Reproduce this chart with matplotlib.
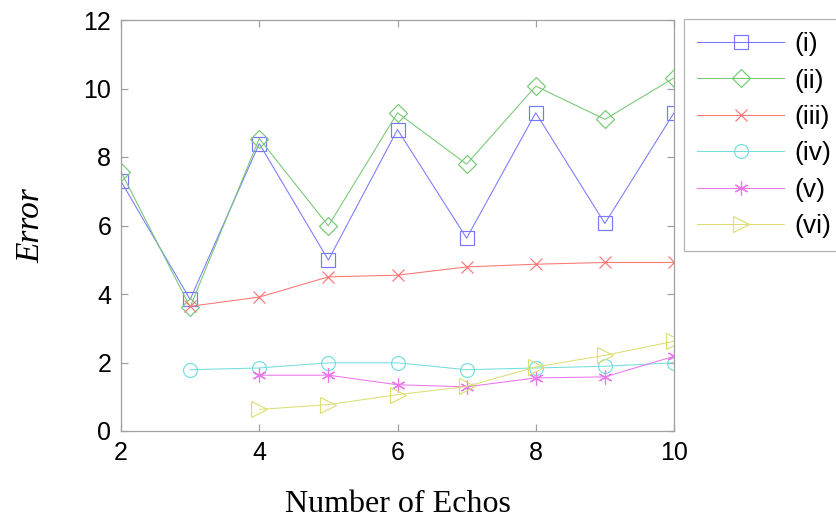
import matplotlib
matplotlib.use("Agg")
import matplotlib.pyplot as plt
import numpy as np

# values
echos = [2, 3, 4, 5, 6, 7, 8, 9, 10]
err_i = [7.29, 3.84, 8.39, 4.99, 8.80, 5.63, 9.29, 6.06, 9.29]
err_ii = [7.57, 3.62, 8.54, 5.99, 9.29, 7.79, 10.07, 9.10, 10.31]
echos_iii = [3, 4, 5, 6, 7, 8, 9, 10]
err_iii = [3.64, 3.91, 4.50, 4.55, 4.79, 4.87, 4.92, 4.92]
echos_iv = [3, 4, 5, 6, 7, 8, 9, 10]
err_iv = [1.79, 1.84, 1.99, 1.99, 1.79, 1.84, 1.89, 1.99]
echos_v = [4, 5, 6, 7, 8, 9, 10]
err_v = [1.63, 1.63, 1.35, 1.29, 1.55, 1.58, 2.18]
echos_vi = [4, 5, 6, 7, 8, 9, 10]
err_vi = [0.63, 0.77, 1.06, 1.30, 1.87, 2.21, 2.62]

labels = ["(i)", "(ii)", "(iii)", "(iv)", "(v)", "(vi)"]
colors = ["#7878ff", "#74c874", "#ff7474", "#74dede", "#ec74ec", "#dede74"]
# (6, 2, 0) = six-spoke asterisk, like matlab's '*'
markers = ["s", "D", "x", "o", (6, 2, 0), ">"]
sizes = [10, 9, 9, 10, 10, 11]

series = [
    (echos, err_i),
    (echos, err_ii),
    (echos_iii, err_iii),
    (echos_iv, err_iv),
    (echos_v, err_v),
    (echos_vi, err_vi),
]

fig = plt.figure(figsize=(8.36, 5.21), dpi=100)
ax = fig.add_axes([121 / 836, 1 - 431 / 521, (674 - 121) / 836, (431 - 20) / 521])

for (x, y), lab, c, m, ms in zip(series, labels, colors, markers, sizes):
    ax.plot(x, y, color=c, lw=0.75, marker=m, ms=ms,
            mfc="none", mec=c, mew=0.85, label=lab)

ax.set_xlim(2, 10)
ax.set_ylim(0, 12)
ax.set_xticks(np.arange(2, 11, 2))
ax.set_yticks(np.arange(0, 13, 2))
for sp in ax.spines.values():
    sp.set_color("#a0a0a0")
    sp.set_linewidth(0.9)
ax.tick_params(direction="in", length=5, color="#a0a0a0", width=0.9,
               top=True, right=True, labelsize=18, pad=7)
for t in ax.get_xticklabels() + ax.get_yticklabels():
    t.set_fontfamily("Liberation Sans")

ax.set_xlabel("Number of Echos", fontfamily="Liberation Serif",
              fontsize=23, labelpad=18)
ax.set_ylabel("Error", fontfamily="Liberation Serif", fontstyle="italic",
              fontsize=24, labelpad=27)

leg = fig.legend(loc="upper left", bbox_to_anchor=(684 / 836, 1 - 19 / 521),
                 frameon=True, fancybox=False, edgecolor="#a0a0a0",
                 prop={"family": "Liberation Sans", "size": 19},
                 handlelength=3.3, handletextpad=0.4, labelspacing=0.47,
                 borderpad=0.5, borderaxespad=0)
leg.get_frame().set_linewidth(0.9)

fig.savefig("out.png", dpi=100)
